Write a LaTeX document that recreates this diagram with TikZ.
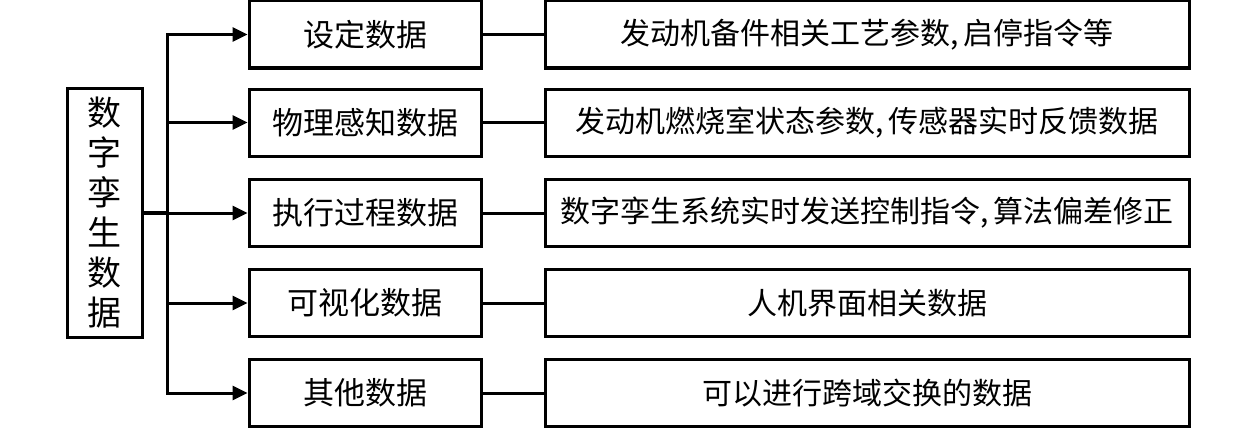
\documentclass[tikz,border=0pt]{standalone}
\usepackage{fontspec}
\setmainfont{Noto Sans CJK SC}
\usetikzlibrary{arrows.meta}
\tikzset{
  box/.style={draw=black, line width=3pt, fill=white, inner sep=0pt, font=\fontsize{31}{34}\selectfont},
  midbox/.style={box, minimum width=232pt, minimum height=67pt},
  rightbox/.style={box, minimum width=644pt, minimum height=67pt, font=\fontsize{30}{34}\selectfont},
  conn/.style={line width=3pt},
  arr/.style={line width=3pt, -{Triangle[length=15pt,width=14pt]}}
}
\begin{document}
\begin{tikzpicture}[x=1pt,y=-1pt]
\useasboundingbox[fill=white] (0,0) rectangle (1260,428);
\node[box, minimum width=75pt, minimum height=249pt, align=center, font=\fontsize{34}{40}\selectfont] (root) at (104.5,212.5) {数\\字\\孪\\生\\数\\据};
\node[midbox] (m1) at (365,34.5) {设定数据};
\node[midbox] (m2) at (365,122.5) {物理感知数据};
\node[midbox] (m3) at (365,213) {执行过程数据};
\node[midbox] (m4) at (365,303) {可视化数据};
\node[midbox] (m5) at (365,393) {其他数据};
\node[rightbox] (r1) at (867,34.5) {发动机备件相关工艺参数,\,启停指令等};
\node[rightbox] (r2) at (867,122.5) {发动机燃烧室状态参数,\,传感器实时反馈数据};
\node[rightbox] (r3) at (867,213) {数字孪生系统实时发送控制指令,\,算法偏差修正};
\node[rightbox] (r4) at (867,303) {人机界面相关数据};
\node[rightbox] (r5) at (867,393) {可以进行跨域交换的数据};
\coordinate (t1) at (167,34.5);
\coordinate (t2) at (167,122.5);
\coordinate (t3) at (167,213);
\coordinate (t4) at (167,303);
\coordinate (t5) at (167,393);
\draw[conn, line cap=rect] (t1) -- (t5);
\draw[line width=4.5pt] (root.east |- t3) -- (t3);
\foreach \i in {1,...,5} {
  \draw[arr] (t\i) -- (m\i.west);
  \draw[conn] (m\i.east) -- (r\i.west);
}
\end{tikzpicture}
\end{document}
